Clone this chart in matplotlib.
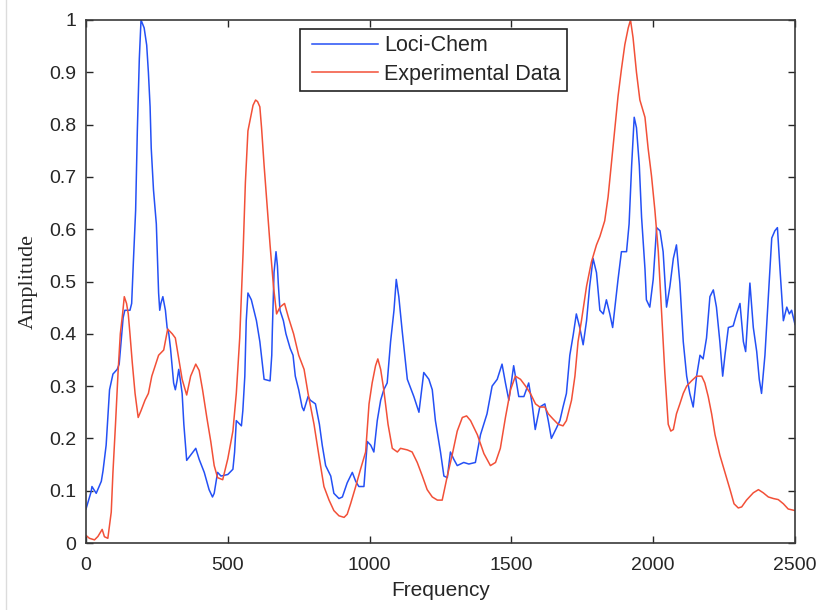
import matplotlib
matplotlib.use('Agg')
import matplotlib.pyplot as plt
from matplotlib.lines import Line2D
from matplotlib.legend_handler import HandlerLine2D

# Loci-Chem (blue)
loci_freq = [0, 18, 21, 36, 54, 60, 71, 77, 83, 95, 110, 117, 125, 131, 137, 155, 161,
             167, 175, 181, 188, 194, 205, 214, 220, 226, 230, 238, 248, 252, 256, 260,
             264, 271, 280, 286, 292, 298, 309, 315, 321, 327, 333, 339, 345, 355, 369,
             387, 399, 417, 434, 446, 452, 464, 476, 500, 518, 524, 530, 548, 553, 560,
             565, 571, 583, 601, 613, 628, 649, 655, 657, 663, 670, 675, 678, 684, 696,
             705, 720, 730, 738, 750, 762, 768, 783, 791, 809, 823, 833, 845, 863, 874,
             892, 904, 921, 939, 951, 962, 980, 992, 1004, 1015, 1027, 1039, 1050, 1062,
             1074, 1086, 1094, 1103, 1115, 1133, 1156, 1174, 1191, 1209, 1221, 1232, 1250,
             1262, 1274, 1285, 1297, 1309, 1332, 1350, 1373, 1391, 1414, 1432, 1450, 1467,
             1479, 1491, 1508, 1526, 1544, 1561, 1573, 1584, 1600, 1618, 1630, 1641, 1659,
             1671, 1682, 1694, 1706, 1718, 1729, 1741, 1753, 1765, 1776, 1788, 1800, 1812,
             1824, 1835, 1847, 1857, 1865, 1876, 1888, 1906, 1915, 1924, 1933, 1941, 1951,
             1959, 1971, 1976, 1988, 2000, 2012, 2024, 2035, 2047, 2059, 2071, 2082, 2094,
             2106, 2118, 2129, 2141, 2153, 2165, 2176, 2188, 2200, 2212, 2223, 2235, 2245,
             2253, 2265, 2282, 2294, 2306, 2318, 2326, 2335, 2341, 2353, 2365, 2374, 2382,
             2394, 2406, 2418, 2429, 2438, 2447, 2459, 2471, 2480, 2488, 2500]
loci_amp = [0.065, 0.098, 0.108, 0.095, 0.118, 0.138, 0.187, 0.24, 0.293, 0.323, 0.332,
            0.342, 0.392, 0.431, 0.445, 0.445, 0.458, 0.537, 0.636, 0.788, 0.926, 1.0,
            0.985, 0.952, 0.90, 0.834, 0.755, 0.675, 0.61, 0.543, 0.478, 0.445, 0.458,
            0.471, 0.445, 0.412, 0.40, 0.372, 0.306, 0.293, 0.31, 0.332, 0.31, 0.286,
            0.227, 0.158, 0.168, 0.181, 0.16, 0.135, 0.102, 0.088, 0.095, 0.135, 0.128,
            0.131, 0.141, 0.174, 0.234, 0.224, 0.253, 0.319, 0.425, 0.478, 0.465, 0.425,
            0.385, 0.313, 0.31, 0.359, 0.405, 0.517, 0.557, 0.53, 0.497, 0.445, 0.425,
            0.40, 0.372, 0.359, 0.319, 0.293, 0.26, 0.253, 0.28, 0.273, 0.266, 0.227,
            0.187, 0.148, 0.128, 0.095, 0.085, 0.088, 0.115, 0.135, 0.118, 0.108, 0.108,
            0.194, 0.187, 0.174, 0.234, 0.273, 0.293, 0.306, 0.385, 0.445, 0.504, 0.471,
            0.405, 0.313, 0.28, 0.25, 0.326, 0.313, 0.293, 0.234, 0.174, 0.128, 0.125,
            0.174, 0.16, 0.148, 0.154, 0.151, 0.154, 0.207, 0.247, 0.30, 0.313, 0.342,
            0.306, 0.273, 0.339, 0.28, 0.28, 0.306, 0.266, 0.217, 0.26, 0.266, 0.234,
            0.20, 0.22, 0.234, 0.26, 0.286, 0.359, 0.398, 0.438, 0.412, 0.379, 0.425,
            0.491, 0.544, 0.517, 0.445, 0.438, 0.465, 0.438, 0.412, 0.451, 0.504, 0.557,
            0.557, 0.61, 0.722, 0.814, 0.794, 0.722, 0.623, 0.524, 0.465, 0.451, 0.504,
            0.603, 0.597, 0.557, 0.451, 0.491, 0.544, 0.57, 0.497, 0.385, 0.319, 0.286,
            0.26, 0.319, 0.359, 0.352, 0.392, 0.471, 0.484, 0.451, 0.385, 0.319, 0.359,
            0.412, 0.415, 0.438, 0.458, 0.385, 0.366, 0.445, 0.497, 0.412, 0.366, 0.313,
            0.286, 0.359, 0.471, 0.583, 0.597, 0.603, 0.524, 0.425, 0.451, 0.438, 0.445,
            0.418]

# Experimental data (red)
exp_freq = [0, 12, 30, 42, 57, 65, 77, 89, 95, 104, 113, 121, 129, 135, 143, 149, 155,
            163, 173, 184, 194, 208, 220, 232, 256, 274, 288, 304, 315, 327, 339, 355,
            369, 387, 399, 411, 426, 440, 452, 464, 482, 500, 518, 530, 542, 554, 562,
            571, 583, 589, 598, 605, 613, 619, 628, 637, 649, 661, 672, 684, 700, 714,
            732, 750, 769, 783, 804, 821, 839, 857, 874, 892, 910, 921, 933, 951, 968,
            986, 998, 1009, 1021, 1029, 1039, 1050, 1065, 1080, 1098, 1109, 1133, 1150,
            1168, 1186, 1203, 1221, 1239, 1256, 1274, 1291, 1309, 1327, 1342, 1356, 1380,
            1403, 1426, 1444, 1461, 1479, 1497, 1514, 1532, 1550, 1567, 1585, 1600, 1618,
            1630, 1647, 1665, 1682, 1694, 1712, 1724, 1735, 1747, 1765, 1782, 1800, 1812,
            1829, 1841, 1853, 1865, 1876, 1888, 1900, 1912, 1920, 1929, 1941, 1953, 1971,
            1982, 1994, 2006, 2018, 2029, 2041, 2053, 2062, 2071, 2082, 2094, 2106, 2118,
            2135, 2153, 2171, 2182, 2194, 2206, 2218, 2235, 2253, 2271, 2285, 2300, 2312,
            2329, 2353, 2371, 2388, 2406, 2424, 2441, 2459, 2476, 2500]
exp_amp = [0.0145, 0.009, 0.006, 0.0125, 0.026, 0.012, 0.009, 0.059, 0.135, 0.227, 0.326,
           0.40, 0.438, 0.471, 0.458, 0.438, 0.40, 0.346, 0.286, 0.24, 0.253, 0.273, 0.286,
           0.319, 0.359, 0.369, 0.409, 0.40, 0.392, 0.352, 0.313, 0.283, 0.319, 0.342, 0.33,
           0.293, 0.24, 0.194, 0.148, 0.125, 0.121, 0.161, 0.214, 0.286, 0.392, 0.557, 0.689,
           0.788, 0.82, 0.837, 0.847, 0.844, 0.834, 0.794, 0.722, 0.656, 0.57, 0.491, 0.438,
           0.451, 0.458, 0.431, 0.40, 0.359, 0.332, 0.286, 0.227, 0.168, 0.108, 0.082, 0.062,
           0.052, 0.049, 0.055, 0.075, 0.108, 0.141, 0.174, 0.266, 0.306, 0.339, 0.352,
           0.332, 0.293, 0.227, 0.181, 0.174, 0.181, 0.178, 0.174, 0.154, 0.128, 0.102,
           0.088, 0.082, 0.082, 0.128, 0.168, 0.214, 0.24, 0.243, 0.234, 0.207, 0.171, 0.148,
           0.154, 0.181, 0.24, 0.293, 0.319, 0.313, 0.30, 0.286, 0.266, 0.26, 0.26, 0.247,
           0.237, 0.227, 0.224, 0.234, 0.273, 0.319, 0.385, 0.425, 0.491, 0.537, 0.57, 0.586,
           0.616, 0.662, 0.728, 0.794, 0.854, 0.906, 0.953, 0.985, 1.0, 0.966, 0.90, 0.847,
           0.814, 0.755, 0.702, 0.636, 0.557, 0.445, 0.326, 0.227, 0.214, 0.217, 0.247,
           0.266, 0.286, 0.30, 0.31, 0.319, 0.319, 0.306, 0.28, 0.247, 0.207, 0.168, 0.135,
           0.102, 0.075, 0.067, 0.069, 0.082, 0.096, 0.102, 0.096, 0.088, 0.085, 0.083,
           0.075, 0.065, 0.062]

x_ticks = [0, 500, 1000, 1500, 2000, 2500]
y_ticks = [0, 0.1, 0.2, 0.3, 0.4, 0.5, 0.6, 0.7, 0.8, 0.9, 1]
y_ticklabels = ['0', '0.1', '0.2', '0.3', '0.4', '0.5', '0.6', '0.7', '0.8', '0.9', '1']

plt.rcParams['font.family'] = ['Liberation Sans', 'DejaVu Sans']

fig = plt.figure(figsize=(8.28, 6.10), dpi=100)
ax = fig.add_axes([86 / 828, 1 - 543 / 610, 709 / 828, 523 / 610])

ax.plot(loci_freq, loci_amp, color='#2450f5', lw=1.1, label='Loci-Chem')
ax.plot(exp_freq, exp_amp, color='#f25038', lw=1.1, label='Experimental Data')

ax.set_xlim(0, 2500)
ax.set_ylim(0, 1)
ax.set_xticks(x_ticks)
ax.set_yticks(y_ticks)
ax.set_yticklabels(y_ticklabels)

# matlab look: ticks inside on every side
ax.tick_params(direction='in', length=5, width=1, top=True, right=True,
               labelsize=14, colors='#262626')
ax.tick_params(axis='x', pad=10)
ax.tick_params(axis='y', pad=7)
for s in ax.spines.values():
    s.set_color('#3a3a3a')
    s.set_linewidth(1.2)

ax.set_xlabel('Frequency', fontsize=15, color='#262626', labelpad=5)
ax.set_ylabel('Amplitude', fontsize=16, family='Liberation Serif', color='#262626', labelpad=8)

leg = ax.legend(loc='upper left', bbox_to_anchor=((300 - 86) / 709, (543 - 29) / 523),
                borderaxespad=0, fontsize=15.5, handlelength=3.34, handletextpad=0.28,
                labelspacing=0.34, borderpad=0.29, fancybox=False, framealpha=1,
                handler_map={Line2D: HandlerLine2D(xpad=0.27)})
leg.get_frame().set_edgecolor('#222222')
leg.get_frame().set_linewidth(1.2)
for t in leg.get_texts():
    t.set_color('#262626')

# faint border line at the left of the screenshot
fig.add_artist(Line2D([6 / 828, 6 / 828], [0, 1], color='#dcdcdc', lw=1))

fig.savefig('out.png', dpi=100)
